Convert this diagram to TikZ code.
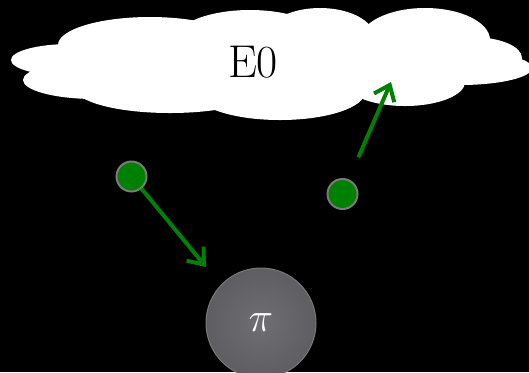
\documentclass[tikz,border=0pt]{standalone}
\usepackage{tikz}
\usetikzlibrary{arrows.meta,positioning}
\definecolor{leaf}{HTML}{008000}
\definecolor{rim}{HTML}{7A7A7A}
\definecolor{polin}{HTML}{6E6E73}
\definecolor{polout}{HTML}{5E5E62}
\tikzset{
  agent/.style={circle, draw=rim, line width=1pt, fill=leaf, minimum size=15pt, inner sep=0pt},
  act/.style={-{Straight Barb[length=7pt,width=11pt]}, line width=2pt, draw=leaf},
}

\begin{document}
\begin{tikzpicture}[x=0.5pt, y=-0.5pt,
  pol/.style={circle, draw=rim, line width=0.5pt, inner color=polin, outer color=polout, minimum size=55pt, text=white,
    font=\fontsize{20}{24}\selectfont}]
  \useasboundingbox (0,0) rectangle (529,372);
  \clip (0,0) rectangle (529,372);
  \fill[black] (0,0) rectangle (529,372);
  \foreach \cx/\cy/\rx/\ry in {70/60/59/16, 95/80/72/19, 150/45/92/28, 170/88/95/25, 280/92/85/28,
      250/40/75/30, 320/38/55/30, 425/40/65/32, 472/58/50/21, 460/68/72/17, 405/82/60/24, 270/65/200/30}
    \fill[white] (\cx,\cy) ellipse [x radius=\rx, y radius=\ry];
  \node[font=\fontsize{23}{27}\selectfont] (world) at (253,62) {E0};
  \node[pol] (policy) at (261,323) {$\pi$};
  \node[agent] (a1) at (131.5,176.5) {};
  \node[agent] (a2) at (342.5,194) {};
  \coordinate (tip1) at (206,267);
  \coordinate (tip2) at (391,82);
  \draw[act] (a1) -- (tip1);
  \draw[act, shorten <=12pt] (a2) -- (tip2);
\end{tikzpicture}
\end{document}
